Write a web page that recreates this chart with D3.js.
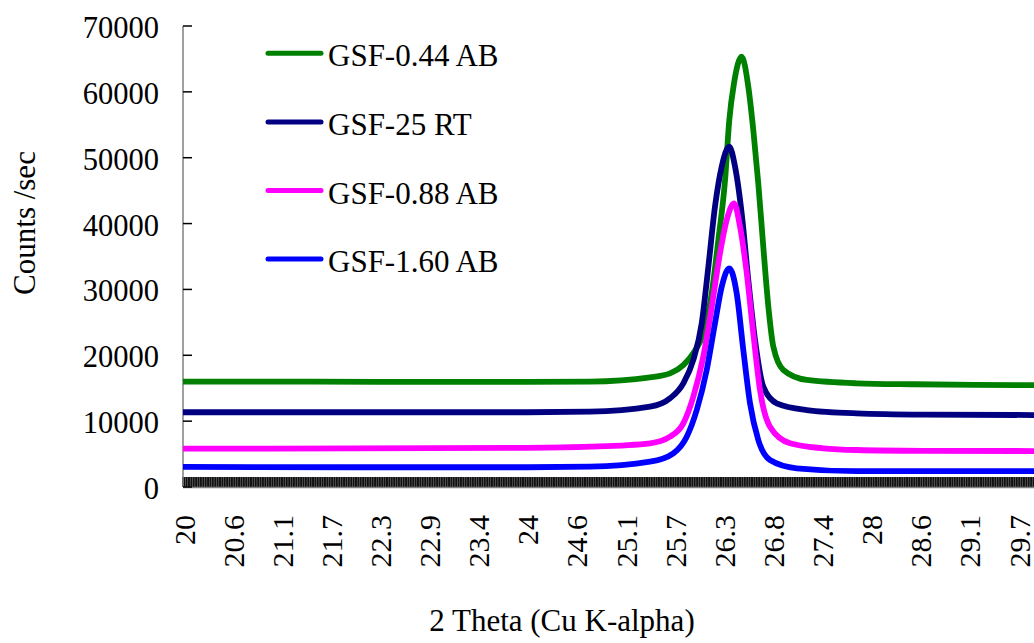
<!DOCTYPE html>
<html>
<head>
<meta charset="utf-8">
<script src="https://cdn.jsdelivr.net/npm/d3@7"></script>
<style>
  html, body { margin: 0; padding: 0; background: #fff; }
  svg { display: block; }
  text { font-family: "Liberation Serif", "Times New Roman", serif; fill: #000; }
</style>
</head>
<body>
<svg id="chart" width="1034" height="643"></svg>
<script>
// XRD scans around the graphite (002) reflection, [2θ, counts/sec]
const gsf044AB = [
  [20, 16000], [21.5, 16000], [23, 15950], [24, 15950], [24.728, 16000],
  [25.425, 16650], [25.658, 17260], [25.812, 18520], [25.928, 20300],
  [26.044, 23340], [26.142, 29410], [26.219, 37500], [26.297, 46600],
  [26.346, 55700], [26.401, 61300], [26.49, 65340], [26.567, 60780],
  [26.625, 54200], [26.683, 46100], [26.741, 36500], [26.8, 27380],
  [26.858, 21300], [26.974, 17770], [27.246, 16250], [27.826, 15750],
  [28.5, 15600], [29.2, 15500], [30.3, 15450]
];
const gsf25RT = [
  [20, 11350], [22, 11350], [24, 11350], [24.728, 11430], [25.425, 12190],
  [25.658, 13470], [25.812, 15750], [25.928, 19280], [26.026, 24860],
  [26.103, 33450], [26.18, 42560], [26.258, 48640], [26.346, 51670],
  [26.413, 48640], [26.49, 41560], [26.567, 31430], [26.645, 22320],
  [26.741, 15230], [26.897, 12710], [27.246, 11690], [27.826, 11190],
  [28.6, 11000], [30.3, 10900]
];
const gsf088AB = [
  [20, 5820], [22, 5850], [24, 5950], [24.728, 6120], [25.425, 6640],
  [25.658, 7640], [25.812, 9670], [25.928, 13710], [26.044, 19790],
  [26.142, 27380], [26.238, 35490], [26.316, 40540], [26.401, 43080],
  [26.471, 39520], [26.54, 33450], [26.625, 23340], [26.703, 14730],
  [26.819, 9160], [27.052, 6640], [27.438, 5880], [27.826, 5620],
  [28.6, 5500], [30.3, 5450]
];
const gsf160AB = [
  [20, 3050], [22, 3000], [24, 3000], [24.728, 3080], [25.425, 3840],
  [25.696, 5120], [25.852, 7640], [25.968, 11690], [26.084, 17770],
  [26.18, 24860], [26.258, 30410], [26.346, 33210], [26.432, 29410],
  [26.509, 20800], [26.587, 12710], [26.683, 7140], [26.819, 4100],
  [27.129, 2840], [27.826, 2400], [28.6, 2400], [30.3, 2400]
];

const seriesNames = ["GSF-0.44 AB", "GSF-25 RT", "GSF-0.88 AB", "GSF-1.60 AB"];
const seriesColors = ["#008000", "#000080", "#FF00FF", "#0000FF"];
const seriesData = [gsf044AB, gsf25RT, gsf088AB, gsf160AB];

const xTickLabels = ["20", "20.6", "21.1", "21.7", "22.3", "22.9", "23.4", "24", "24.6",
                     "25.1", "25.7", "26.3", "26.8", "27.4", "28", "28.6", "29.1", "29.7"];
const yTickValues = [0, 10000, 20000, 30000, 40000, 50000, 60000, 70000];

const svg = d3.select("#chart");
const plotLeft = 183, plotBottom = 487, plotTop = 26, lastLabelX = 1018;

// 2θ scale: first and last labelled channels span the labelled range
const x = d3.scaleLinear().domain([20, 29.7]).range([plotLeft, lastLabelX]);
const xLabel = d3.scalePoint().domain(xTickLabels).range([plotLeft, lastLabelX]);
const y = d3.scaleLinear().domain([0, 70000]).range([plotBottom, plotTop]);

// dense per-channel tick marks along the category axis
const channelTicks = d3.range(20, 30.4, 0.02);
svg.append("g")
  .selectAll("line")
  .data(channelTicks)
  .join("line")
  .attr("x1", d => x(d)).attr("x2", d => x(d))
  .attr("y1", plotBottom - 10).attr("y2", plotBottom)
  .attr("stroke", "#111").attr("stroke-width", 1.7);

// axis lines
svg.append("line").attr("x1", plotLeft).attr("x2", 1034)
  .attr("y1", plotBottom + 0.5).attr("y2", plotBottom + 0.5)
  .attr("stroke", "#808080").attr("stroke-width", 1.5);
svg.append("line").attr("x1", plotLeft).attr("x2", plotLeft)
  .attr("y1", plotTop).attr("y2", plotBottom)
  .attr("stroke", "#808080").attr("stroke-width", 1.5);

// y ticks and labels
const yAxis = svg.append("g");
yAxis.selectAll("line.tick").data(yTickValues).join("line")
  .attr("class", "tick")
  .attr("x1", plotLeft).attr("x2", plotLeft + 9)
  .attr("y1", d => y(d)).attr("y2", d => y(d))
  .attr("stroke", "#000").attr("stroke-width", 1.5);
yAxis.selectAll("text").data(yTickValues).join("text")
  .attr("x", 159).attr("y", d => y(d) + 12)
  .attr("text-anchor", "end")
  .style("font-size", "30.5px")
  .text(d => d);

// x tick labels, rotated
svg.append("g").selectAll("text").data(xTickLabels).join("text")
  .attr("transform", d => `translate(${xLabel(d) + 1},515) rotate(-90)`)
  .attr("text-anchor", "end")
  .attr("dy", "0.35em")
  .style("font-size", "30px")
  .text(d => d);

// axis titles
svg.append("text")
  .attr("x", 562).attr("y", 631)
  .attr("text-anchor", "middle")
  .style("font-size", "31px")
  .text("2 Theta (Cu K-alpha)");
svg.append("text")
  .attr("transform", "translate(24,223) rotate(-90)")
  .attr("text-anchor", "middle")
  .attr("dy", "0.35em")
  .style("font-size", "31px")
  .text("Counts /sec");

// diffraction curves
const line = d3.line()
  .x(d => x(d[0]))
  .y(d => y(d[1]))
  .curve(d3.curveMonotoneX);

svg.append("g").selectAll("path").data(seriesData).join("path")
  .attr("d", line)
  .attr("fill", "none")
  .attr("stroke", (d, i) => seriesColors[i])
  .attr("stroke-width", 5.8)
  .attr("stroke-linejoin", "round");

// legend
const legend = svg.append("g").selectAll("g").data(seriesNames).join("g")
  .attr("transform", (d, i) => `translate(0,${53.3 + i * 68.6})`);
legend.append("line")
  .attr("x1", 268).attr("x2", 321).attr("y1", 0).attr("y2", 0)
  .attr("stroke", (d, i) => seriesColors[i])
  .attr("stroke-width", 5)
  .attr("stroke-linecap", "round");
legend.append("text")
  .attr("x", 328).attr("y", 13)
  .style("font-size", "31px")
  .text(d => d);
</script>
</body>
</html>
